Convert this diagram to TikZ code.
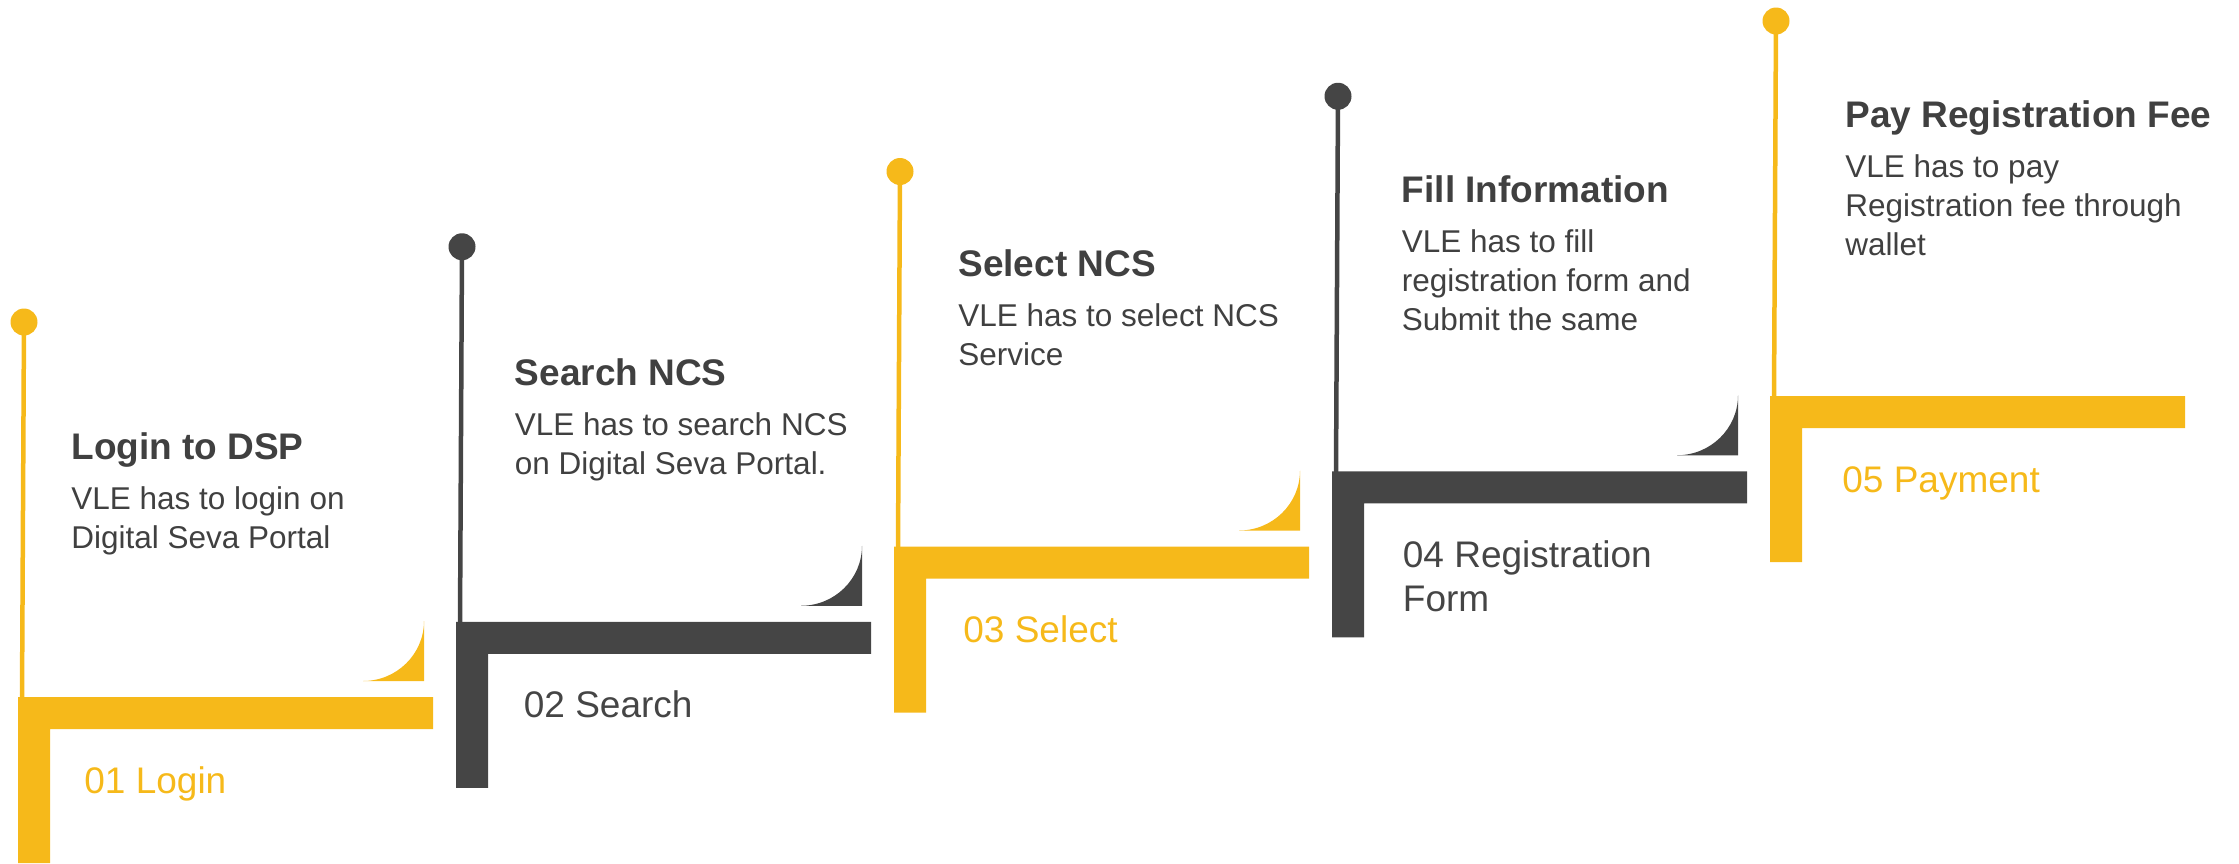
\documentclass[tikz,border=0pt]{standalone}
\usepackage{fontspec}
\setmainfont{Liberation Sans}
\definecolor{ncsyellow}{HTML}{F6B91A}
\definecolor{ncsdark}{HTML}{454545}
\definecolor{ncstext}{HTML}{404040}
% lines of a text, baseline on the first one
\newcommand{\stacklines}[1]{\begin{tabular}[t]{@{}l@{}}#1\end{tabular}}

\begin{document}
\begin{tikzpicture}[x=0.5pt, y=-0.5pt,
    dot/.style={circle, fill=#1, inner sep=0pt, minimum size=13.5pt},
    stem/.style={line width=2.25pt},
    steptitle/.style={anchor=base west, inner sep=0pt, text=ncstext,
        font=\bfseries\fontsize{18.5}{22}\selectfont},
    stepbody/.style={anchor=base west, inner sep=0pt, text=ncstext,
        font=\fontsize{15.75}{19.5}\selectfont},
    steplabel/.style={anchor=base west, inner sep=0pt, text=#1,
        font=\fontsize{18.5}{22}\selectfont}]
  \useasboundingbox (0,0) rectangle (2239,863);
  \foreach \i/\col/\ty/\ttl/\body/\lab
      [evaluate=\i as \X using {18+438*(\i-1)},
       evaluate=\i as \Y using {697-75.25*(\i-1)}] in {
      1/ncsyellow/459/{Login to DSP}/{VLE has to login on\\Digital Seva Portal}/{01 Login},
      2/ncsdark/385/{Search NCS}/{VLE has to search NCS\\on Digital Seva Portal.}/{02 Search},
      3/ncsyellow/276/{Select NCS}/{VLE has to select NCS\\Service}/{03 Select},
      4/ncsdark/202/{Fill Information}/{VLE has to fill\\registration form and\\Submit the same}/{04 Registration\\Form},
      5/ncsyellow/127/{Pay Registration Fee}/{VLE has to pay\\Registration fee through\\wallet}/{05 Payment}}
  {
    % step bar
    \fill[\col] (\X,\Y) -- (\X+415,\Y) -- (\X+415,\Y+32) -- (\X+32,\Y+32)
        -- (\X+32,\Y+166) -- (\X,\Y+166) -- cycle;
    % pin
    \node[dot=\col] (dot\i) at (\X+6,\Y-375) {};
    \coordinate (foot\i) at (\X+4,\Y+2);
    \draw[stem, \col] (dot\i.center) -- (foot\i);
    % corner curl
    \ifnum\i<5
      \fill[\col] (\X+345,\Y-16) .. controls (\X+378.7,\Y-16) and (\X+406,\Y-42.9)
          .. (\X+406,\Y-76) -- (\X+406,\Y-16) -- cycle;
    \fi
    % texts
    \node[steptitle] (title\i) at ({71+443.5*(\i-1)},\ty) {\ttl};
    \node[stepbody] (body\i) at ({71+443.5*(\i-1)},\ty+50) {\stacklines{\body}};
    \node[steplabel=\col, font=\fontsize{18.5}{22}\selectfont] (label\i)
        at ({84+439.5*(\i-1)},\Y+96) {\stacklines{\lab}};
  }
\end{tikzpicture}
\end{document}
